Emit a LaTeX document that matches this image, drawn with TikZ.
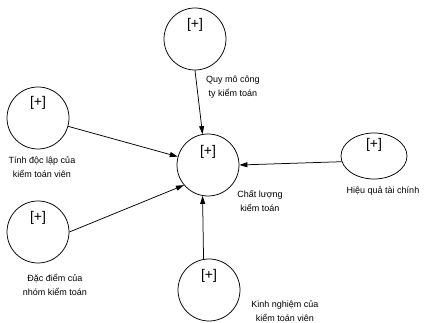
\documentclass[tikz,border=0pt]{standalone}
\usepackage{fontspec}
\setmainfont{Liberation Sans}
\usetikzlibrary{arrows.meta,shapes.geometric}

\begin{document}
\begin{tikzpicture}[x=1pt,y=-1pt,
  fac/.style={draw,circle,minimum size=62pt,inner sep=0pt,line width=0.75pt},
  res/.style={draw,ellipse,minimum width=66pt,minimum height=46pt,inner sep=0pt,line width=0.75pt},
  plus/.style={font=\fontsize{14}{14}\selectfont,inner sep=0pt},
  lbl/.style={font=\fontsize{9}{13.5}\selectfont,align=center,inner sep=0pt},
  ar/.style={-{Triangle[length=8pt,width=5pt]},line width=0.75pt}]
\useasboundingbox (0,0) rectangle (424,323);
% factors round the quality node
\node[fac] (ctr) at (208,165) {};
\node[fac] (size) at (195,39) {};
\node[fac] (indep) at (38,118) {};
\node[fac] (team) at (38,232) {};
\node[fac] (exper) at (209,290) {};
\node[res] (fin) at (374,156) {};
\node[plus] (ctrp) at ([yshift=13pt]ctr.center) {[+]};
\node[plus] (sizep) at ([yshift=14pt]size.center) {[+]};
\node[plus] (indepp) at ([yshift=15pt]indep.center) {[+]};
\node[plus] (teamp) at ([yshift=14pt]team.center) {[+]};
\node[plus] (experp) at ([yshift=14pt]exper.center) {[+]};
\node[plus] (finp) at ([yshift=11pt]fin.center) {[+]};
% captions
\node[lbl] (ctrl) at (260,201) {Chất lượng\\kiểm toán};
\node[lbl] (sizel) at (233,87) {Quy mô công\\ty kiểm toán};
\node[lbl] (indepl) at (42,167) {Tính độc lập của\\kiểm toán viên};
\node[lbl] (teaml) at (55,285) {Đặc điểm của\\nhóm kiểm toán};
\node[lbl] (experl) at (285,311) {Kinh nghiệm của\\kiểm toán viên};
\node[lbl] (finl) at (383,191) {Hiệu quả tài chính};
% arrows
\draw[ar] (size.south) -- (ctr.100);
\draw[ar] (indep) -- (ctr);
\draw[ar] (team.east) -- (ctr.220);
\draw[ar] (exper.100) -- (ctr.260);
\draw[ar] (fin.190) -- (ctr.east);
\end{tikzpicture}
\end{document}
